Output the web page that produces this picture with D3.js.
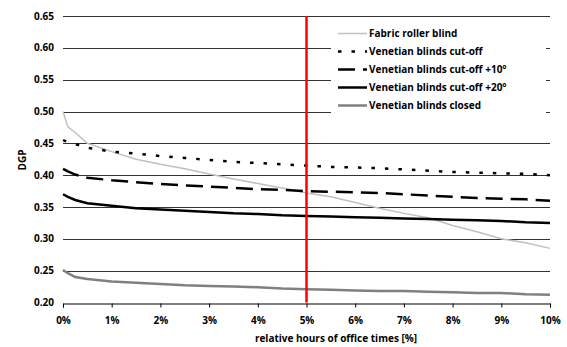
<!DOCTYPE html>
<html>
<head>
<meta charset="utf-8">
<script src="https://cdn.jsdelivr.net/npm/d3@7.9.0/dist/d3.min.js"></script>
<style>
  body { margin: 0; background: #fff; }
  svg text { font-family: "Open Sans", sans-serif; font-weight: bold; font-size: 10px; fill: #000; }
</style>
</head>
<body>
<svg id="chart" width="567" height="347"></svg>
<script>
// data
const pct = [0, 0.1, 0.25, 0.5, 1, 1.5, 2, 2.5, 3, 3.5, 4, 4.5, 5, 5.5, 6, 6.5, 7, 7.5, 8, 8.5, 9, 9.5, 10];
const fabric = [0.500, 0.476, 0.467, 0.450, 0.437, 0.425, 0.417, 0.410, 0.402, 0.394, 0.387, 0.380, 0.372, 0.366, 0.357, 0.348, 0.340, 0.333, 0.321, 0.311, 0.300, 0.294, 0.285];
const cutOff = [0.455, 0.452, 0.449, 0.443, 0.437, 0.434, 0.430, 0.427, 0.424, 0.421, 0.419, 0.417, 0.415, 0.413, 0.412, 0.411, 0.409, 0.407, 0.405, 0.404, 0.403, 0.402, 0.400];
const cutOff10 = [0.410, 0.406, 0.401, 0.396, 0.392, 0.389, 0.386, 0.384, 0.382, 0.380, 0.378, 0.377, 0.375, 0.374, 0.373, 0.372, 0.370, 0.368, 0.366, 0.364, 0.363, 0.362, 0.360];
const cutOff20 = [0.370, 0.366, 0.361, 0.356, 0.352, 0.348, 0.346, 0.344, 0.342, 0.340, 0.339, 0.337, 0.336, 0.335, 0.334, 0.333, 0.332, 0.331, 0.330, 0.329, 0.328, 0.326, 0.325];
const closed = [0.251, 0.246, 0.240, 0.237, 0.233, 0.231, 0.229, 0.227, 0.226, 0.225, 0.224, 0.222, 0.221, 0.220, 0.219, 0.218, 0.218, 0.217, 0.216, 0.215, 0.215, 0.213, 0.212];
const yTicks = [0.20, 0.25, 0.30, 0.35, 0.40, 0.45, 0.50, 0.55, 0.60, 0.65];
const xTicks = [0, 1, 2, 3, 4, 5, 6, 7, 8, 9, 10];
const marker = 5;

const series = [
  { label: 'Fabric roller blind', values: fabric, color: '#c0c0c0', width: 1.5, dash: null },
  { label: 'Venetian blinds cut-off', values: cutOff, color: '#000', width: 2.5, dash: '3.5,10' },
  { label: 'Venetian blinds cut-off +10°', values: cutOff10, color: '#000', width: 2.5, dash: '17,8' },
  { label: 'Venetian blinds cut-off +20°', values: cutOff20, color: '#000', width: 2.5, dash: null },
  { label: 'Venetian blinds closed', values: closed, color: '#808080', width: 2.5, dash: null },
];

const svg = d3.select('#chart');
const x = d3.scaleLinear().domain([0, 10]).range([63, 550]);
const y = d3.scaleLinear().domain([0.20, 0.65]).range([302.5, 16]);

// gridlines
svg.append('g').selectAll('line')
  .data(yTicks.slice(1))
  .join('line')
  .attr('x1', x(0)).attr('x2', x(10))
  .attr('y1', d => Math.round(y(d)) + 0.5).attr('y2', d => Math.round(y(d)) + 0.5)
  .attr('stroke', '#333').attr('stroke-width', 1);

// y labels
svg.append('g').selectAll('text')
  .data(yTicks)
  .join('text')
  .attr('x', 54).attr('y', d => y(d) + 3.5)
  .attr('text-anchor', 'end')
  .text(d => d.toFixed(2));

// x axis
const xAxis = d3.axisBottom(x).tickValues(xTicks).tickSize(4).tickFormat(d => d + '%');
const gx = svg.append('g').attr('transform', `translate(0,${Math.round(y(0.20)) + 0.5})`).call(xAxis);
gx.select('.domain').attr('stroke', '#000');
gx.selectAll('.tick line').attr('stroke', '#000');
gx.selectAll('.tick text').attr('dy', null).attr('y', 20)
  .style('font-family', '"Open Sans", sans-serif').style('font-weight', 'bold').style('font-size', '10px');

// axis titles
svg.append('text').attr('x', 336).attr('y', 342).attr('text-anchor', 'middle')
  .text('relative hours of office times [%]');
svg.append('text').attr('transform', 'translate(26,160) rotate(-90)').attr('text-anchor', 'middle')
  .text('DGP');

// lines
const line = d3.line().x((d, i) => x(pct[i])).y(d => y(d));
series.forEach(s => {
  svg.append('path')
    .attr('d', line(s.values))
    .attr('fill', 'none')
    .attr('stroke', s.color)
    .attr('stroke-width', s.width)
    .attr('stroke-dasharray', s.dash);
});

// 5% marker
svg.append('line')
  .attr('x1', x(marker)).attr('x2', x(marker))
  .attr('y1', y(0.65)).attr('y2', y(0.20))
  .attr('stroke', '#ff0000').attr('stroke-width', 2.5);

// legend
const lg = svg.append('g');
lg.append('rect').attr('x', 331).attr('y', 20).attr('width', 215).attr('height', 98).attr('fill', '#fff');
series.forEach((s, i) => {
  const cy = 33.5 + i * 18;
  lg.append('line')
    .attr('x1', 338).attr('x2', 367).attr('y1', cy).attr('y2', cy)
    .attr('stroke', s.color).attr('stroke-width', s.width)
    .attr('stroke-dasharray', s.dash);
  lg.append('text').attr('x', 369).attr('y', cy + 3.5).text(s.label);
});
</script>
</body>
</html>
